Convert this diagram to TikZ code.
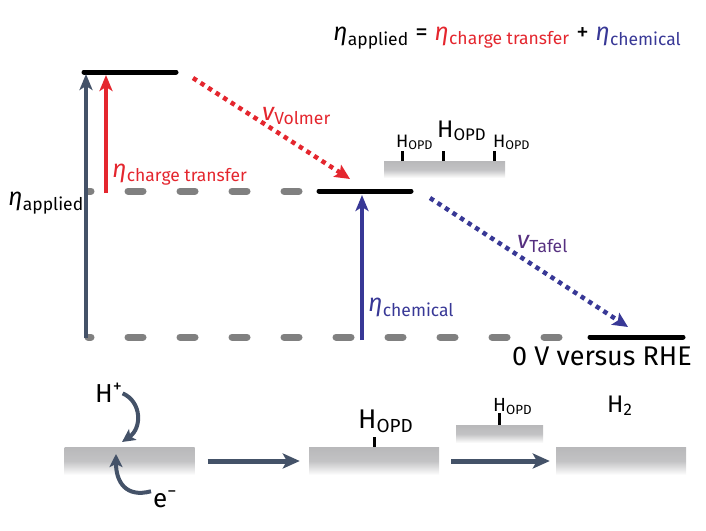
\documentclass[tikz,border=0pt]{standalone}
\usepackage{fontspec}
\setmainfont{Fira Sans}
\usetikzlibrary{positioning, arrows.meta}

\definecolor{slate}{RGB}{68,82,104}
\definecolor{redct}{RGB}{228,38,46}
\definecolor{bluech}{RGB}{56,56,150}
\definecolor{surfgray}{RGB}{184,184,186}

\tikzstyle{level} = [line width=5pt, line cap=round]
\tikzstyle{guide} = [line width=7pt, gray, line cap=round, dash pattern=on 15pt off 37pt]
\tikzstyle{uparrow} = [line width=4pt, -{Stealth[length=16pt,width=13pt,inset=4pt]}]
\tikzstyle{rate} = [line width=4.5pt, dash pattern=on 4.5pt off 4.5pt, -{Stealth[length=15pt,width=14pt,inset=3pt]}]
\tikzstyle{flow} = [slate, line width=5pt, -{Stealth[length=17pt,width=15pt,inset=4pt]}]
\tikzstyle{curvearrow} = [slate, line width=4pt, -{Stealth[length=13pt,width=13pt,inset=3pt]}]
\tikzstyle{surf} = [inner sep=0pt, top color=surfgray, bottom color=white, middle color=surfgray!85]
\tikzstyle{tick} = [line width=3pt]
\tikzstyle{lbl} = [anchor=base west, inner sep=0pt, font=\fontsize{25}{29}\selectfont]
\tikzstyle{small} = [anchor=base west, inner sep=0pt, font=\fontsize{19}{22}\selectfont]

\newcommand{\etaI}{{\itshape η}}
\newcommand{\vI}{{\itshape v}}

\begin{document}
\begin{tikzpicture}[x=1pt, y=-1pt]
    \useasboundingbox (0,0) rectangle (706,530);

    % energy levels
    \coordinate (topL) at (84,72);
    \coordinate (topR) at (176,72);
    \coordinate (midL) at (319,191);
    \coordinate (midR) at (411,191);
    \coordinate (botL) at (590,337);
    \coordinate (botR) at (683,337);

    \draw[guide, dash phase=12pt] (88,191) -- (midL);
    \draw[guide, dash phase=12pt] (88,337) -- (botL);

    \draw[level] (topL) -- (topR);
    \draw[level] (midL) -- (midR);
    \draw[level] (botL) -- (botR);

    \coordinate (appB) at (86,338);
    \coordinate (appT) at (86,74);
    \coordinate (ctB) at (106,193);
    \coordinate (ctT) at (106,75);
    \coordinate (chB) at (362,340);
    \coordinate (chT) at (362,195);
    \draw[uparrow, slate] (appB) -- (appT);
    \draw[uparrow, redct] (ctB) -- (ctT);
    \draw[uparrow, bluech] (chB) -- (chT);

    \coordinate (volS) at (193,78);
    \coordinate (volE) at (350,179);
    \coordinate (tafS) at (430,198);
    \coordinate (tafE) at (628,327);
    \draw[rate, redct] (volS) -- (volE);
    \draw[rate, bluech] (tafS) -- (tafE);

    \node[lbl] (formula) at (333,40) {\etaI\textsubscript{applied} = {\color{redct}\etaI\textsubscript{charge transfer}} + {\color{bluech}\etaI\textsubscript{chemical}}};
    \node[lbl] (applied) at (8,205) {\etaI\textsubscript{applied}};
    \node[lbl, text=redct] (ctlab) at (112,177) {\etaI\textsubscript{charge transfer}};
    \node[lbl, text=redct] (vollab) at (262,120) {\vI\textsubscript{Volmer}};
    \node[lbl, text=bluech] (chlab) at (368,311) {\etaI\textsubscript{chemical}};
    \node[lbl, text=bluech!85!red] (taflab) at (517,248) {\vI\textsubscript{Tafel}};
    \node[lbl, font=\fontsize{27}{31}\selectfont] (rhe) at (512,365) {0 V versus RHE};

    % covered surface
    \node[surf, minimum width=121pt, minimum height=17pt] (sT) at (444.5,169.5) {};
    \draw[tick] (402,161) -- ++(0,-10);
    \draw[tick] (443,161) -- ++(0,-10);
    \draw[tick] (494,161) -- ++(0,-10);
    \node[small, font=\fontsize{18}{22}\selectfont] (hT1) at (396,147) {H\textsubscript{OPD}};
    \node[lbl, font=\fontsize{24}{28}\selectfont] (hT2) at (437,137) {H\textsubscript{OPD}};
    \node[small, font=\fontsize{18}{22}\selectfont] (hT3) at (493,147) {H\textsubscript{OPD}};

    % reaction steps
    \node[surf, minimum width=130pt, minimum height=28pt] (s1) at (129.5,461) {};
    \node[surf, minimum width=130pt, minimum height=28pt] (s2) at (374,461) {};
    \node[surf, minimum width=87pt, minimum height=18pt] (s3) at (499.5,434) {};
    \node[surf, minimum width=130pt, minimum height=28pt] (s4) at (621,461) {};

    \draw[flow, shorten <=13pt, shorten >=9pt] (s1.east) -- (s2.west);
    \draw[flow, shorten <=12pt, shorten >=6pt] (s2.east) -- (s4.west);

    \node[lbl, font=\fontsize{26}{30}\selectfont] (hplus) at (95,402) {H\textsuperscript{+}};
    \node[lbl, font=\fontsize{26}{30}\selectfont] (eminus) at (153,507) {e\textsuperscript{−}};
    \coordinate (hpE) at (122,442);
    \coordinate (emE) at (116,454);
    \draw[curvearrow] (hplus.north east) ++(0,10) .. controls (142,402) and (142,428) .. (hpE);
    \draw[curvearrow] (eminus.west) ++(-2,-8) .. controls (126,498) and (116,482) .. (emE);

    \draw[tick] (s2.north) -- ++(0,-10);
    \draw[tick] (s3.north) -- ++(0,-12);
    \node[lbl, font=\fontsize{27}{30}\selectfont] (h2lab) at (358,428) {H\textsubscript{OPD}};
    \node[small] (h3lab) at (493,411) {H\textsubscript{OPD}};
    \node[lbl, font=\fontsize{24}{28}\selectfont] (h4lab) at (607,412) {H\textsubscript{2}};
\end{tikzpicture}
\end{document}
